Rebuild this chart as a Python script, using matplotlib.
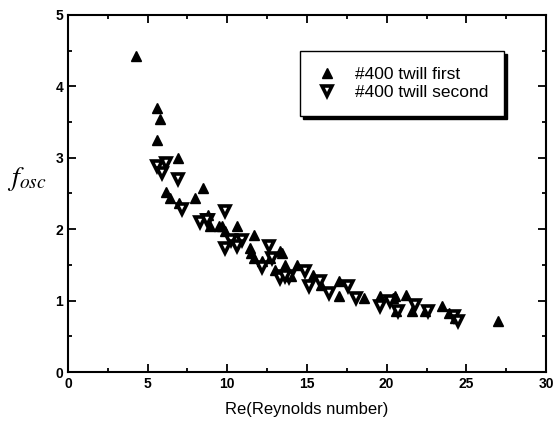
import matplotlib
matplotlib.use("Agg")
import matplotlib.pyplot as plt
from matplotlib.ticker import MultipleLocator

first_x = [4.3, 5.6, 5.8, 5.6, 6.9, 6.15, 6.4, 6.97, 8.5, 7.97, 8.8, 8.9, 9.5, 9.65, 9.86,
           10.6, 11.7, 11.4, 11.5, 11.7, 12.2, 13.3, 12.7, 13.6, 13.0, 13.4, 14.35, 14.0,
           15.4, 15.9, 17.0, 17.0, 18.6, 19.6, 20.4, 20.5, 21.2, 20.6, 21.6, 22.4, 23.5,
           23.9, 24.3, 27.0]
first_y = [4.42, 3.7, 3.55, 3.25, 3.0, 2.52, 2.44, 2.37, 2.58, 2.44, 2.2, 2.04, 2.04, 2.04, 1.97,
           2.04, 1.92, 1.74, 1.67, 1.6, 1.55, 1.69, 1.6, 1.5, 1.43, 1.67, 1.5, 1.34,
           1.36, 1.22, 1.27, 1.06, 1.04, 1.06, 1.04, 1.06, 1.08, 0.85, 0.85, 0.85, 0.92,
           0.83, 0.76, 0.71]

second_x = [6.15, 5.57, 5.88, 6.93, 7.14, 9.86, 8.3, 8.8, 8.7, 10.2, 10.9, 9.86, 10.6, 12.6,
            12.8, 12.2, 13.3, 13.9, 13.6, 14.9, 15.1, 15.8, 16.4, 17.6, 18.1, 19.6, 20.2,
            20.7, 21.8, 22.6, 24.2, 24.5]
second_y = [2.93, 2.88, 2.79, 2.70, 2.28, 2.25, 2.1, 2.13, 2.13, 1.85, 1.85, 1.74, 1.76, 1.76,
            1.6, 1.47, 1.32, 1.33, 1.34, 1.41, 1.2, 1.27, 1.11, 1.2, 1.04, 0.92, 0.99,
            0.85, 0.94, 0.85, 0.78, 0.71]

plt.rcParams['font.family'] = ['Liberation Sans', 'DejaVu Sans']
plt.rcParams['mathtext.fontset'] = 'stix'

fig = plt.figure(figsize=(5.54, 4.28), dpi=100)
ax = fig.add_axes([0.1227, 0.1308, 0.8629, 0.8342])

ax.plot(first_x, first_y, linestyle='none', marker='^', markersize=7.5,
        markerfacecolor='black', markeredgecolor='black', label='#400 twill first')
ax.plot(second_x, second_y, linestyle='none', marker='v', markersize=6.8,
        markerfacecolor='white', markeredgecolor='black', markeredgewidth=2.6,
        label='#400 twill second')

ax.set_xlim(0, 30)
ax.set_ylim(0, 5)
ax.xaxis.set_major_locator(MultipleLocator(5))
ax.xaxis.set_minor_locator(MultipleLocator(2.5))
ax.yaxis.set_major_locator(MultipleLocator(1))
ax.yaxis.set_minor_locator(MultipleLocator(0.5))
ax.tick_params(which='both', direction='in', top=True, right=True, width=1.3)
ax.tick_params(which='major', length=6, labelsize=10)
ax.tick_params(which='minor', length=3)
for lab in ax.get_xticklabels() + ax.get_yticklabels():
    lab.set_fontweight('bold')
for s in ax.spines.values():
    s.set_linewidth(1.5)

ax.set_xlabel('Re(Reynolds number)', fontsize=12, labelpad=8)
ax.set_ylabel(r'$\mathbf{\mathit{f}}_{osc}$', fontsize=20, rotation=0)
ax.yaxis.set_label_coords(-0.085, 0.50)

leg = ax.legend(loc='upper left', bbox_to_anchor=(0.485, 0.899), fontsize=12.5,
                frameon=True, fancybox=False, shadow={'color': 'black', 'alpha': 1},
                edgecolor='black', framealpha=1, handletextpad=1.0, borderpad=0.9,
                handlelength=1.3, labelspacing=0.2, borderaxespad=0)
leg.get_frame().set_linewidth(1.0)

fig.savefig('out.png', dpi=100)
